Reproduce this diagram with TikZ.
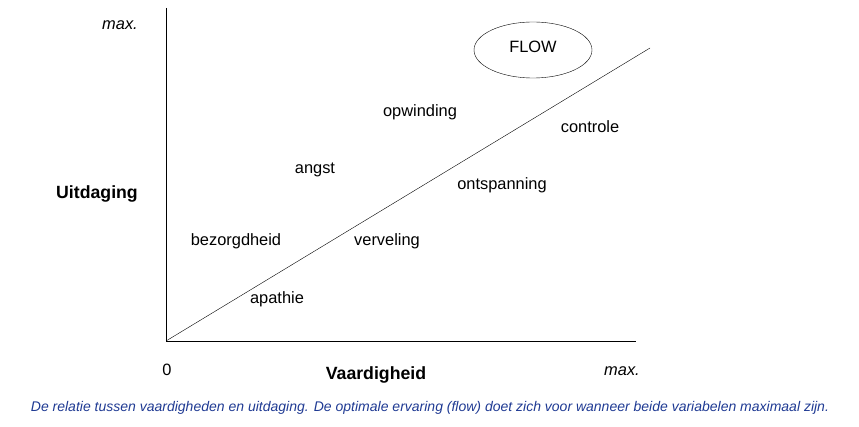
\documentclass[tikz,border=0pt]{standalone}
\usepackage{fontspec}
\usetikzlibrary{shapes.geometric}
\setmainfont{Liberation Sans}
\definecolor{cap}{HTML}{1F3A93}
\begin{document}
\begin{tikzpicture}[x=1pt,y=-1pt,
  lbl/.style={font=\fontsize{16.4}{18}\selectfont,inner sep=0pt},
  ax/.style={font=\bfseries\fontsize{17.7}{20}\selectfont,inner sep=0pt}]
\useasboundingbox (0,0) rectangle (859,427);
\coordinate (o) at (166,341);
\coordinate (yt) at (166,8);
\coordinate (xr) at (636,341);
\coordinate (d) at (650,48);
\draw (yt) -- (o) -- (xr);
\draw (o) -- (d);
\node[draw,ellipse,minimum width=118,minimum height=56,inner sep=0pt] (fl) at (533,50) {};
\node[lbl] (flow) at (533,47) {FLOW};
\node[lbl,font=\itshape\fontsize{16.4}{18}\selectfont] (m1) at (120,25) {max.};
\node[lbl,font=\itshape\fontsize{16.4}{18}\selectfont] (m2) at (622,371) {max.};
\node[lbl] (z) at (167,370) {0};
\node[ax] (u) at (97,194) {Uitdaging};
\node[ax] (v) at (376,375) {Vaardigheid};
\node[lbl] at (420,112) {opwinding};
\node[lbl] at (590,127) {controle};
\node[lbl] at (315,170) {angst};
\node[lbl] at (502,185) {ontspanning};
\node[lbl] at (236,241) {bezorgdheid};
\node[lbl] at (387,241) {verveling};
\node[lbl] at (277,299) {apathie};
\node[inner sep=0pt,text=cap,font=\itshape\fontsize{14}{16}\selectfont] (c) at (430,408) {De relatie tussen vaardigheden en uitdaging. De optimale ervaring (flow) doet zich voor wanneer beide variabelen maximaal zijn.};
\end{tikzpicture}
\end{document}
